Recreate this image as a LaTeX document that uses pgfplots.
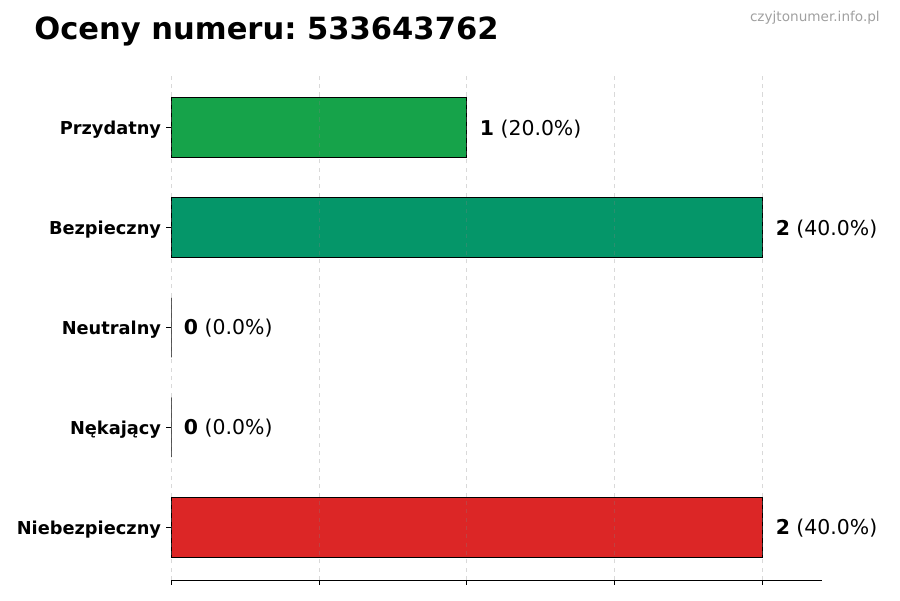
\documentclass[border=0pt]{standalone}
\usepackage{fontspec}
\setmainfont{DejaVu Sans}
\usepackage{pgfplots}
\pgfplotsset{compat=1.18}

\definecolor{przyd}{HTML}{16A34A}
\definecolor{bezp}{HTML}{059669}
\definecolor{niebezp}{HTML}{DC2626}
\definecolor{wmark}{HTML}{A0A0A0}

\begin{document}
\frenchspacing
\begin{tikzpicture}
% 900x600 px canvas, 1px = 0.72pt
\useasboundingbox (0,0) rectangle (648pt,432pt);

\node[anchor=base west, inner sep=0pt, font=\fontsize{22}{26}\selectfont\bfseries]
  at (24.5pt,403.2pt) {Oceny numeru: 533643762};
\node[anchor=base east, inner sep=0pt, font=\fontsize{9.8}{12}\selectfont, text=wmark]
  at (633.6pt,416.5pt) {czyjtonumer.info.pl};

\begin{axis}[
  at={(123.12pt,14.4pt)}, anchor=south west,
  scale only axis,
  width=468.7pt, height=363.6pt,
  xmin=0, xmax=2.2,
  ymin=-0.53, ymax=4.53,
  xbar, bar shift=0pt, bar width=0.6,
  axis x line*=bottom, axis y line*=left,
  axis line style={-, line width=0.6pt},
  y axis line style={draw=none},
  xtick={0,0.5,1,1.5,2}, xticklabels={},
  ytick={0,1,2,3,4},
  yticklabels={Niebezpieczny,Nękający,Neutralny,Bezpieczny,Przydatny},
  yticklabel style={font=\fontsize{12.8}{15}\selectfont\bfseries, inner sep=0pt,
    xshift=-3.5pt, yshift=-1.5pt},
  tick align=outside,
  major tick length=3.5pt,
  tick style={black, line width=0.6pt},
  xmajorgrids,
  grid style={dashed, gray, opacity=0.3, line width=0.6pt},
  axis on top,
  nodes near coords align={horizontal},
  every node near coord/.append style={anchor=west, inner sep=0pt, xshift=9pt,
    yshift=-0.7pt, font=\fontsize{14.7}{17}\selectfont, text=black},
]
\addplot[fill=przyd, draw=black, line width=0.7pt,
  nodes near coords={\textbf{1} (20.0\%)}] coordinates {(1,4)};
\addplot[fill=bezp, draw=black, line width=0.7pt,
  nodes near coords={\textbf{2} (40.0\%)}] coordinates {(2,3)};
\addplot[fill=gray, draw=black, line width=0.7pt,
  nodes near coords={\textbf{0} (0.0\%)}] coordinates {(0,2)};
\addplot[fill=gray, draw=black, line width=0.7pt,
  nodes near coords={\textbf{0} (0.0\%)}] coordinates {(0,1)};
\addplot[fill=niebezp, draw=black, line width=0.7pt,
  nodes near coords={\textbf{2} (40.0\%)}] coordinates {(2,0)};
\end{axis}
\end{tikzpicture}
\end{document}
